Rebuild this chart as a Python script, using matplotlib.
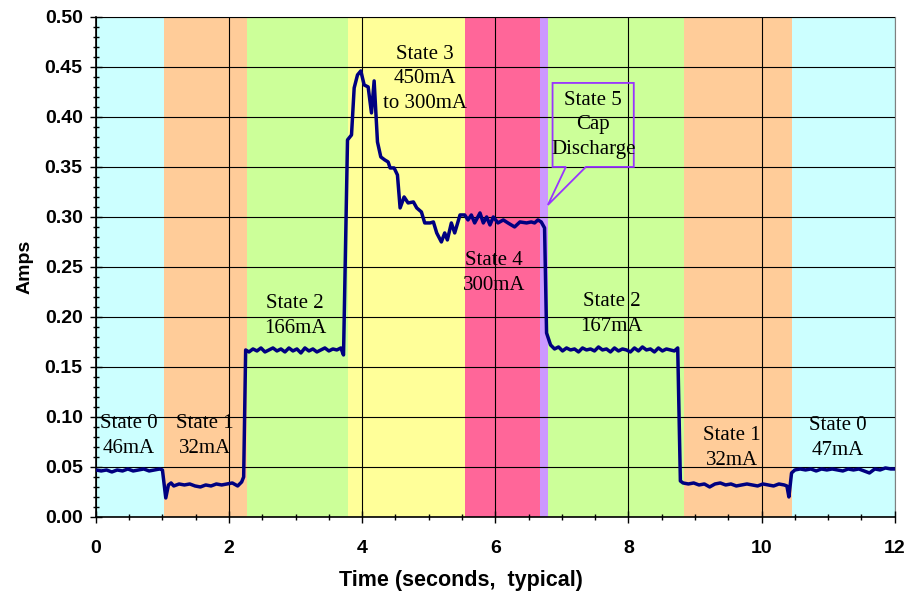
import matplotlib
matplotlib.use("Agg")
import matplotlib.pyplot as plt
import numpy as np
from matplotlib.patches import Polygon

# background state bands (start, end in seconds) and their colours
band_edges = [0.0, 1.02, 2.27, 3.78, 5.55, 6.67, 6.79, 8.83, 10.45, 12.0]
band_colors = ["#ccffff", "#ffcc99", "#ccff99", "#ffff99", "#ff6699",
               "#cc99ff", "#ccff99", "#ffcc99", "#ccffff"]

# current trace
t_state0a = [0.00, 0.08, 0.16, 0.24, 0.32, 0.40, 0.48, 0.56, 0.64, 0.72, 0.80, 0.88, 0.96, 1.00]
a_state0a = [0.047, 0.046, 0.047, 0.045, 0.047, 0.046, 0.048, 0.046, 0.047, 0.048, 0.046, 0.047, 0.048, 0.047]

t_state1a = [1.03, 1.05, 1.09, 1.13, 1.17, 1.25, 1.33, 1.41, 1.49, 1.57, 1.65, 1.73, 1.81, 1.89, 1.97,
             2.05, 2.13, 2.19, 2.22]
a_state1a = [0.030, 0.019, 0.032, 0.034, 0.031, 0.033, 0.032, 0.033, 0.031, 0.030, 0.032, 0.031, 0.033,
             0.032, 0.033, 0.034, 0.031, 0.035, 0.040]

t_state2a = [2.25, 2.30, 2.36, 2.42, 2.48, 2.54, 2.60, 2.66, 2.72, 2.78, 2.84, 2.90, 2.96, 3.02, 3.08,
             3.14, 3.20, 3.26, 3.32, 3.38, 3.44, 3.50, 3.56, 3.62, 3.68, 3.72]
a_state2a = [0.167, 0.165, 0.168, 0.166, 0.169, 0.165, 0.167, 0.169, 0.166, 0.168, 0.165, 0.169, 0.166,
             0.168, 0.164, 0.169, 0.166, 0.168, 0.165, 0.167, 0.169, 0.166, 0.168, 0.167, 0.169, 0.162]

t_state3 = [3.78, 3.84, 3.88, 3.93, 3.98, 4.03, 4.09, 4.14, 4.18, 4.23, 4.28, 4.34, 4.39, 4.42, 4.48,
            4.53, 4.57, 4.63, 4.69, 4.77, 4.82, 4.89, 4.94, 5.02, 5.07, 5.12, 5.19, 5.24, 5.28, 5.34,
            5.39, 5.47]
a_state3 = [0.377, 0.382, 0.429, 0.442, 0.446, 0.432, 0.430, 0.404, 0.436, 0.375, 0.360, 0.357, 0.355,
            0.349, 0.349, 0.342, 0.309, 0.320, 0.314, 0.315, 0.309, 0.305, 0.294, 0.294, 0.295, 0.284,
            0.275, 0.284, 0.277, 0.294, 0.284, 0.302]

t_state4 = [5.54, 5.59, 5.64, 5.69, 5.77, 5.82, 5.87, 5.92, 5.97, 6.04, 6.12, 6.19, 6.29, 6.37, 6.47,
            6.54, 6.59, 6.64, 6.69, 6.74]
a_state4 = [0.302, 0.297, 0.302, 0.294, 0.304, 0.294, 0.300, 0.292, 0.300, 0.294, 0.297, 0.294, 0.290,
            0.295, 0.294, 0.295, 0.294, 0.297, 0.295, 0.289]

t_state2b = [6.77, 6.83, 6.89, 6.95, 7.01, 7.07, 7.13, 7.19, 7.25, 7.31, 7.37, 7.43, 7.49, 7.55, 7.61,
             7.67, 7.73, 7.79, 7.85, 7.91, 7.97, 8.03, 8.09, 8.15, 8.21, 8.27, 8.33, 8.39, 8.45, 8.51,
             8.57, 8.63, 8.69, 8.74]
a_state2b = [0.184, 0.172, 0.168, 0.170, 0.166, 0.169, 0.167, 0.168, 0.165, 0.169, 0.167, 0.168, 0.166,
             0.170, 0.167, 0.168, 0.165, 0.169, 0.166, 0.168, 0.167, 0.165, 0.169, 0.166, 0.170, 0.167,
             0.168, 0.165, 0.169, 0.166, 0.168, 0.167, 0.166, 0.169]

t_state1b = [8.78, 8.82, 8.90, 8.98, 9.06, 9.14, 9.22, 9.30, 9.38, 9.46, 9.54, 9.62, 9.70, 9.78, 9.86,
             9.94, 10.02, 10.10, 10.18, 10.26, 10.34, 10.38]
a_state1b = [0.036, 0.034, 0.033, 0.034, 0.032, 0.033, 0.030, 0.033, 0.034, 0.032, 0.033, 0.031, 0.032,
             0.033, 0.032, 0.031, 0.033, 0.032, 0.031, 0.033, 0.032, 0.031]

t_state0b = [10.41, 10.45, 10.50, 10.58, 10.66, 10.74, 10.82, 10.90, 10.98, 11.06, 11.14, 11.22, 11.30,
             11.38, 11.46, 11.54, 11.62, 11.70, 11.78, 11.86, 11.94, 12.00]
a_state0b = [0.020, 0.044, 0.047, 0.048, 0.047, 0.048, 0.046, 0.048, 0.047, 0.048, 0.047, 0.046, 0.048,
             0.047, 0.048, 0.046, 0.044, 0.048, 0.047, 0.049, 0.048, 0.048]

state_labels = ["State 0\n46mA", "State 1\n32mA", "State 2\n166mA", "State 3\n450mA\nto 300mA",
                "State 4\n300mA", "State 2\n167mA", "State 1\n32mA", "State 0\n47mA"]
callout_label = "State 5\nCap\nDischarge"

t = np.concatenate([t_state0a, t_state1a, t_state2a, t_state3, t_state4, t_state2b, t_state1b, t_state0b])
a = np.concatenate([a_state0a, a_state1a, a_state2a, a_state3, a_state4, a_state2b, a_state1b, a_state0b])

fig = plt.figure(figsize=(9.13, 5.96), dpi=100)
ax = fig.add_axes([0.105, 0.1326, 0.875, 0.839])

for i, c in enumerate(band_colors):
    ax.axvspan(band_edges[i], band_edges[i + 1], color=c, lw=0, zorder=0)

ax.set_axisbelow(False)
ax.grid(True, which="major", color="black", lw=0.8)
ax.plot(t, a, color="#000080", lw=2.5, zorder=4)

ax.set_xlim(0, 12)
ax.set_ylim(0, 0.5)
ax.set_xticks(np.arange(0, 13, 2))
ax.set_xticks(np.arange(0, 12.01, 0.5), minor=True)
ax.set_yticks(np.arange(0, 0.501, 0.05))
ax.set_yticks(np.arange(0, 0.501, 0.01), minor=True)
ax.set_yticklabels([f"{v:.2f}" for v in np.arange(0, 0.501, 0.05)])
ax.tick_params(which="both", direction="inout", color="black")
ax.tick_params(which="major", length=9, width=1)
ax.tick_params(which="minor", length=5, width=1)
ax.tick_params(axis="x", pad=12)
ax.tick_params(axis="y", pad=5)
for lab in ax.get_xticklabels() + ax.get_yticklabels():
    lab.set_family("Liberation Sans")
    lab.set_weight("bold")
    lab.set_fontsize(14)

for side in ["top", "right"]:
    ax.spines[side].set_color("#808080")
for side in ["left", "bottom"]:
    ax.spines[side].set_color("black")
    ax.spines[side].set_linewidth(1.2)

ax.set_xlabel("Time (seconds,  typical)", family="Liberation Sans", weight="bold", fontsize=15.5)
ax.xaxis.set_label_coords(0.457, -0.106)
ax.set_ylabel("Amps", family="Liberation Sans", weight="bold", fontsize=14, labelpad=8)

label_pos = [(0.5, 0.081), (1.64, 0.081), (2.99, 0.201), (4.94, 0.438),
             (5.98, 0.244), (7.75, 0.203), (9.55, 0.069), (11.14, 0.079)]
for (x, y), txt in zip(label_pos, state_labels):
    ax.text(x, y, txt, ha="center", va="center", family="Liberation Serif",
            fontsize=15, linespacing=1.4, zorder=5)

# callout box for state 5
box = Polygon([(6.86, 0.434), (8.08, 0.434), (8.08, 0.350), (7.36, 0.350), (6.79, 0.312),
               (7.06, 0.350), (6.86, 0.350)], closed=True, fill=False, edgecolor="#9933ff", lw=1.3, zorder=5)
ax.add_patch(box)
ax.text(7.47, 0.392, callout_label, ha="center", va="center", family="Liberation Serif",
        fontsize=15, linespacing=1.4, zorder=6)

fig.savefig("out.png", dpi=100)
